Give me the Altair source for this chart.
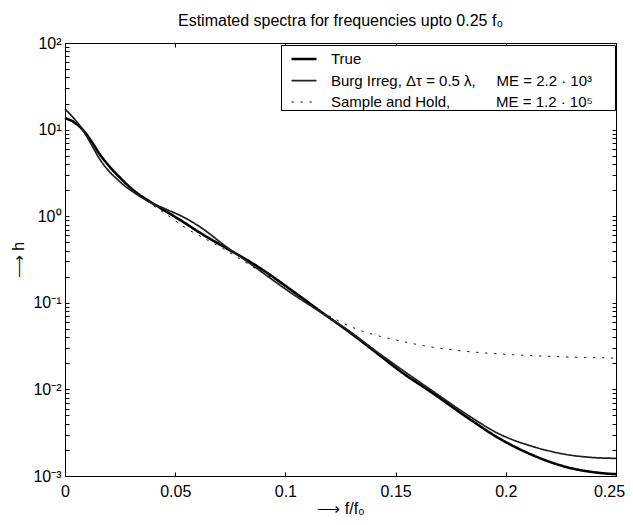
import altair as alt
import pandas as pd

# ---- data ----
f_true = [0, 0.004, 0.008, 0.012, 0.016, 0.020, 0.024, 0.031, 0.0386, 0.046, 0.0536, 0.061,
          0.0734, 0.087, 0.1036, 0.117, 0.128, 0.143, 0.152, 0.167, 0.182, 0.197, 0.212,
          0.227, 0.242, 0.25]
h_true = [13.6, 12.2, 10.0, 7.3, 5.1, 3.8, 2.95, 2.0, 1.47, 1.13, 0.86, 0.65,
          0.425, 0.266, 0.135, 0.076, 0.048, 0.0245, 0.0163, 0.009, 0.00484, 0.00272, 0.00175,
          0.00128, 0.00109, 0.00105]

f_burg = [0, 0.004, 0.008, 0.012, 0.016, 0.020, 0.0235, 0.027, 0.031, 0.0386, 0.046, 0.0536,
          0.061, 0.0734, 0.087, 0.0975, 0.1036, 0.117, 0.128, 0.143, 0.152, 0.167, 0.182,
          0.197, 0.212, 0.227, 0.242, 0.25]
h_burg = [17.3, 13.5, 10.0, 6.7, 4.46, 3.3, 2.7, 2.25, 1.9, 1.45, 1.2, 0.98,
          0.76, 0.44, 0.25, 0.16, 0.125, 0.075, 0.049, 0.0255, 0.0175, 0.0095, 0.0052,
          0.00306, 0.0022, 0.00178, 0.00162, 0.0016]

f_sh = [0, 0.008, 0.016, 0.024, 0.031, 0.0386, 0.046, 0.0552, 0.0635, 0.0718, 0.0853, 0.1,
        0.110, 0.117, 0.1215, 0.1275, 0.135, 0.143, 0.1505, 0.1626, 0.182, 0.203, 0.225, 0.25]
h_sh = [13.6, 10.0, 5.1, 2.95, 2.0, 1.42, 1.05, 0.72, 0.55, 0.42, 0.26, 0.155,
        0.10, 0.077, 0.067, 0.056, 0.047, 0.041, 0.037, 0.032, 0.0275, 0.0252, 0.0238, 0.023]

NB = "\u00a0"
BLANK = "\u2800"
lab_true = "True"
lab_burg = "Burg Irreg, Δτ = 0.5 λ," + NB * 5 + "ME = 2.2 · 10³" + BLANK * 2
lab_sh = "Sample and Hold," + NB * 11 + "ME = 1.2 · 10⁵"
order = [lab_true, lab_burg, lab_sh]

x_ticks = [0, 0.05, 0.1, 0.15, 0.2, 0.25]
y_major = [1e-3, 1e-2, 1e-1, 1, 10, 100]
y_minor = [round(k * 10 ** d, 10) for d in range(-3, 2) for k in range(2, 10)]
y_ticks = y_major + y_minor

df = pd.concat([
    pd.DataFrame({"f": f_true, "h": h_true, "series": lab_true}),
    pd.DataFrame({"f": f_burg, "h": h_burg, "series": lab_burg}),
    pd.DataFrame({"f": f_sh, "h": h_sh, "series": lab_sh}),
])

FONT = "Liberation Sans"
x_scale = alt.Scale(domain=[0, 0.25], nice=False, zero=False)
y_scale = alt.Scale(type="log", domain=[1e-3, 1e2], nice=False)

y_label_expr = (
    "datum.value == 100 ? '10²' : datum.value == 10 ? '10¹' : datum.value == 1 ? '10⁰' : "
    "datum.value == 0.1 ? '10⁻¹' : datum.value == 0.01 ? '10⁻²' : "
    "datum.value == 0.001 ? '10⁻³' : ''"
)

leg = alt.Legend(
    title=None, orient="none", legendX=216, legendY=2,
    strokeColor="black", fillColor="white", padding=0, cornerRadius=0,
    symbolType="stroke", symbolSize=625, symbolOffset=9, labelFontSize=15, labelFont=FONT,
    labelColor="black", rowPadding=-3.5, labelOffset=13, labelLimit=600,
)

lines = alt.Chart(df).mark_line(interpolate="monotone", strokeCap="butt").encode(
    x=alt.X("f:Q", scale=x_scale, axis=alt.Axis(
        orient="bottom", values=x_ticks, format="~g", title="⟶ f/f₀",
        labelFlush=False, labelPadding=7, titlePadding=1,
        labelOffset={"condition": {"test": "datum.value == 0.25", "value": -7}, "value": 0})),
    y=alt.Y("h:Q", scale=y_scale, axis=alt.Axis(
        orient="left", values=y_ticks, labelExpr=y_label_expr, title="⟶ h",
        labelOverlap=False, labelPadding=4, titlePadding=6)),
    color=alt.Color("series:N", scale=alt.Scale(domain=order, range=["black", "#222", "black"]), legend=leg),
    strokeWidth=alt.StrokeWidth("series:N", scale=alt.Scale(domain=order, range=[2.6, 0.9, 2.4]), legend=leg),
    strokeDash=alt.StrokeDash("series:N", scale=alt.Scale(domain=order, range=[[1, 0], [1, 0], [2.4, 6.6]]), legend=leg),
)

frame = alt.Chart(df).mark_point(opacity=0).encode(
    x=alt.X("f:Q", scale=x_scale, axis=alt.Axis(orient="top", values=x_ticks, labels=False, title=None)),
    y=alt.Y("h:Q", scale=y_scale, axis=alt.Axis(orient="right", values=y_ticks, labels=False, title=None)),
)

chart = alt.layer(lines, frame).resolve_axis(x="independent", y="independent").properties(
    width=551, height=433,
    autosize=alt.AutoSizeParams(type="none"),
    padding={"left": 57, "top": 35, "right": 9, "bottom": 50},
    title=alt.TitleParams("Estimated spectra for frequencies upto 0.25 f₀", fontSize=16, font=FONT,
                          fontWeight="normal", color="black", offset=6),
).configure_view(stroke="black", strokeWidth=1).configure_axis(
    domain=False, grid=False, tickColor="black", tickSize=4, offset=-4, tickWidth=1,
    labelColor="black", titleColor="black", labelFont=FONT, titleFont=FONT,
    labelFontSize=16, titleFontSize=16, titleFontWeight="normal",
)

chart.save("out.html", embed_options={"renderer": "svg", "actions": False})
